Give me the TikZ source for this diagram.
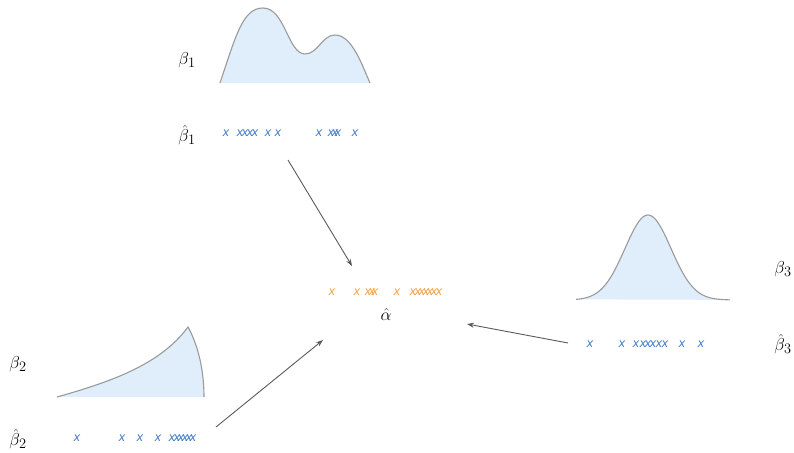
\documentclass[tikz,border=0pt]{standalone}
\usepackage{fontspec}
\newfontfamily\mkfont{Liberation Sans}
\usetikzlibrary{arrows.meta}
\definecolor{densfill}{HTML}{E0EEFB}
\definecolor{densline}{HTML}{9A9A9A}
\definecolor{mkblue}{HTML}{3C78C8}
\definecolor{mkorange}{HTML}{F2A03C}
\definecolor{arrowgray}{HTML}{5A5A5A}
\tikzset{
  lbl/.style={inner sep=0pt, font=\fontsize{19}{19}\selectfont},
  bmark/.style={inner sep=0pt, text=mkblue, font=\mkfont\itshape\fontsize{12.5}{12.5}\selectfont},
  omark/.style={inner sep=0pt, text=mkorange, font=\mkfont\itshape\fontsize{12.5}{12.5}\selectfont},
  dens/.style={draw=densline, line width=1.1pt},
  densarea/.style={fill=densfill},
  conn/.style={draw=arrowgray, line width=0.9pt, -{Stealth[length=7pt,width=5pt]}}
}
\begin{document}
\begin{tikzpicture}[x=1pt,y=-1pt]
\useasboundingbox (0,0) rectangle (794,452);
% density beta_1
\fill[densarea] (220,83) .. controls (236,35) and (243,8) .. (263,8) .. controls (285,8) and (288,54) .. (305,54) .. controls (318,54) and (322,35) .. (335,35) .. controls (352,35) and (362,65) .. (370,83) -- cycle;
\draw[dens] (220,83) .. controls (236,35) and (243,8) .. (263,8) .. controls (285,8) and (288,54) .. (305,54) .. controls (318,54) and (322,35) .. (335,35) .. controls (352,35) and (362,65) .. (370,83);
% density beta_2
\fill[densarea] (57,397) .. controls (110,382) and (160,365) .. (188,327) .. controls (198,345) and (204,370) .. (204,397) -- cycle;
\draw[dens] (57,397) .. controls (110,382) and (160,365) .. (188,327) .. controls (198,345) and (204,370) .. (204,397);
% density beta_3
\fill[densarea] plot[domain=576:730, samples=80, smooth] (\x, {300-85*exp(-((\x-648)/23)^2/2)}) -- cycle;
\draw[dens] plot[domain=576:730, samples=80, smooth] (\x, {300-85*exp(-((\x-648)/23)^2/2)});
% labels
\node[lbl] (b1) at (187,60) {$\beta_1$};
\node[lbl] (b1h) at (187,135) {$\hat\beta_1$};
\node[lbl] (b2) at (18,364) {$\beta_2$};
\node[lbl] (b2h) at (18,439) {$\hat\beta_2$};
\node[lbl] (b3) at (783,269) {$\beta_3$};
\node[lbl] (b3h) at (783,344) {$\hat\beta_3$};
\node[lbl] (ah) at (386,314) {$\hat\alpha$};
% markers
\foreach \p [count=\i] in {226,240,245,250,255,268,278,319,331,335,338,355}
  \node[bmark] (ma\i) at (\p,133) {x};
\foreach \p [count=\i] in {77,122,140,158,172,177,181,185,189,193}
  \node[bmark] (mb\i) at (\p,438) {x};
\foreach \p [count=\i] in {590,622,636,643,648,653,659,665,682,701}
  \node[bmark] (mc\i) at (\p,344) {x};
\foreach \p [count=\i] in {332,357,368,372,375,397,413,418,422,426,430,434,439}
  \node[omark] (md\i) at (\p,292) {x};
% connectors
\coordinate (s1) at (288,160);
\coordinate (e1) at (352,266);
\coordinate (s2) at (216,427);
\coordinate (e2) at (323,340);
\coordinate (s3) at (568,343);
\coordinate (e3) at (467,324);
\draw[conn] (s1) -- (e1);
\draw[conn] (s2) -- (e2);
\draw[conn] (s3) -- (e3);
\end{tikzpicture}
\end{document}
